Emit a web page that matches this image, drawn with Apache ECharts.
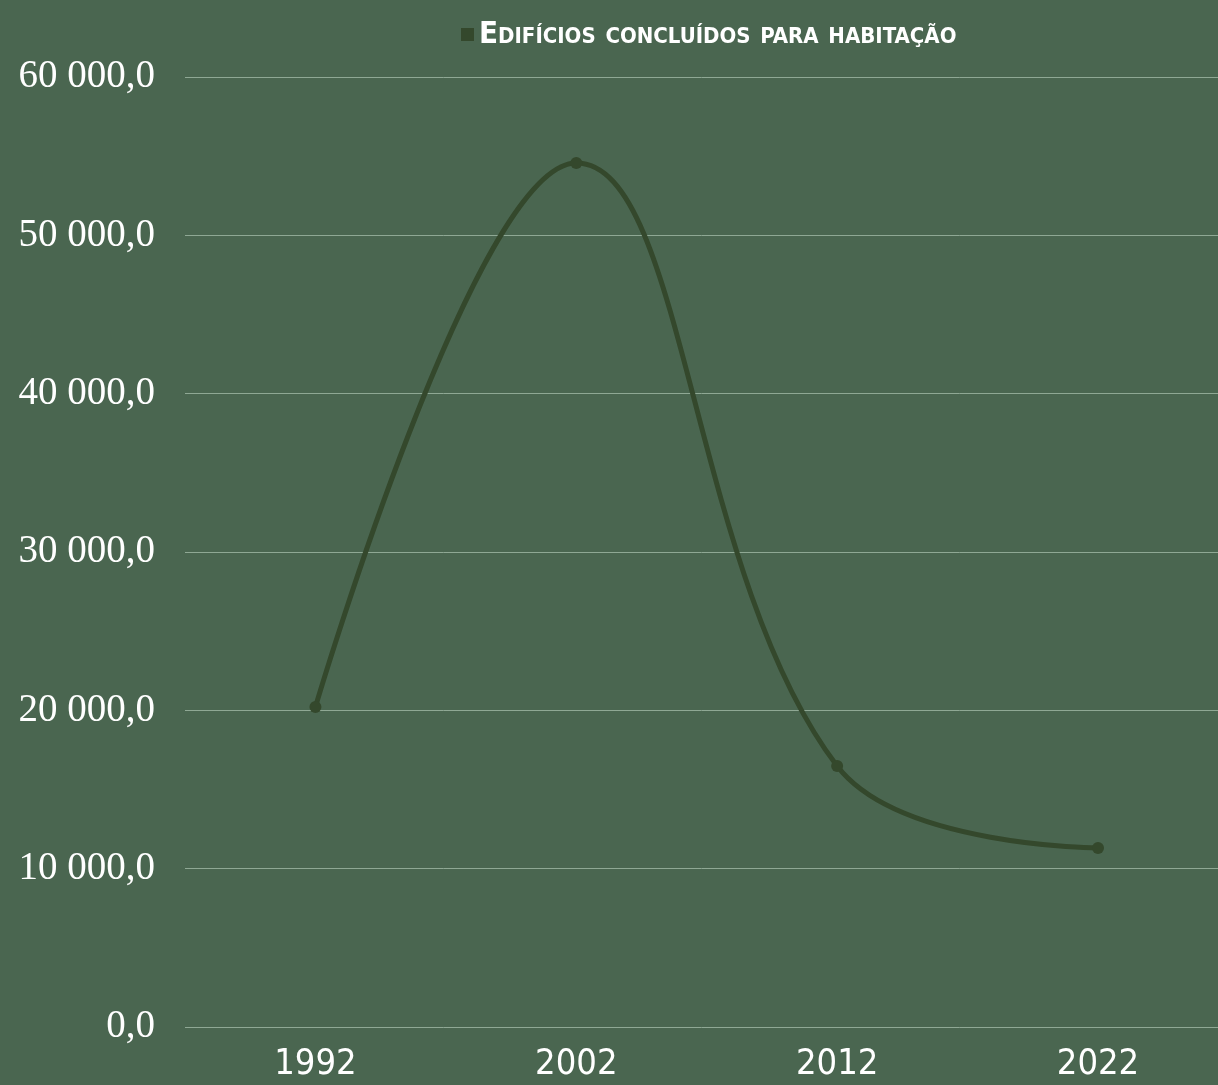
<!DOCTYPE html>
<html>
<head>
<meta charset="utf-8">
<script src="https://cdn.jsdelivr.net/npm/echarts@6/dist/echarts.min.js"></script>
<style>
  html, body { margin: 0; padding: 0; background: #4a6650; }
  #main { width: 1218px; height: 1085px; }
</style>
</head>
<body>
<div id="main"></div>
<script>
// dados do gráfico
let anos = [1992, 2002, 2012, 2022]
let edificios = [20210, 54570, 16480, 11300]
let serieNome = 'Edifícios concluídos para habitação'

// formato 60 000,0
function fmt(v) {
  let s = Math.round(v).toString().replace(/\B(?=(\d{3})+(?!\d))/g, ' ')
  return s + ',0'
}

let chart = echarts.init(document.getElementById('main'))

let option = {
  backgroundColor: '#4a6650',
  animation: false,
  legend: {
    data: [serieNome],
    left: 456,
    top: 14,
    itemWidth: 13,
    itemHeight: 13,
    itemGap: 12,
    icon: 'rect',
    textStyle: {
      color: '#ffffff',
      fontFamily: 'DejaVu Sans Condensed',
      fontStyle: 'small-caps',
      fontWeight: 'bold',
      fontSize: 31
    }
  },
  grid: {
    left: 185,
    top: 77,
    right: 0,
    height: 950,
    containLabel: false
  },
  xAxis: {
    type: 'value',
    min: 1987,
    max: 2026.6,
    axisLine: { show: false },
    axisTick: { show: false },
    splitLine: { show: false },
    axisLabel: {
      color: '#ffffff',
      fontFamily: 'DejaVu Sans Condensed',
      fontSize: 36,
      margin: 20,
      customValues: anos,
      formatter: function (v) { return String(v) }
    }
  },
  yAxis: {
    type: 'value',
    min: 0,
    max: 60000,
    interval: 10000,
    axisLine: { show: false },
    axisTick: { show: false },
    splitLine: { lineStyle: { color: '#8fa894', width: 1 } },
    axisLabel: {
      color: '#ffffff',
      fontFamily: 'Liberation Serif',
      fontSize: 39,
      margin: 30,
      formatter: fmt
    }
  },
  series: [{
    name: serieNome,
    type: 'line',
    data: anos.map(function (a, i) { return [a, edificios[i]] }),
    smooth: 0.4,
    symbol: 'circle',
    symbolSize: 12,
    itemStyle: { color: '#34482c' },
    lineStyle: { color: '#34482c', width: 5 }
  }]
}

chart.setOption(option)
</script>
</body>
</html>
